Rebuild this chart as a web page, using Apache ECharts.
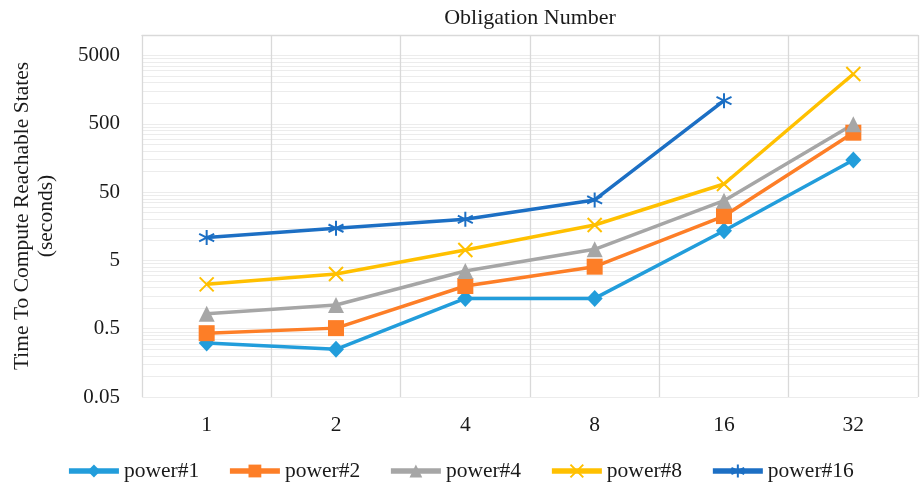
<!DOCTYPE html>
<html>
<head>
<meta charset="utf-8">
<script src="https://cdn.jsdelivr.net/npm/echarts@6/dist/echarts.min.js"></script>
<style>
  html, body { margin: 0; padding: 0; background: #ffffff; }
  #chart { width: 920px; height: 484px; }
</style>
</head>
<body>
<div id="chart"></div>
<script>
// Obligation counts on the category axis
const categories = ['1', '2', '4', '8', '16', '32'];

// Time to compute reachable states (seconds), one list per power setting
const power1 = [0.31, 0.25, 1.39, 1.39, 13.6, 148];
const power2 = [0.43, 0.51, 2.11, 4.05, 22.3, 371];
const power4 = [0.83, 1.11, 3.5, 7.27, 37.5, 492];
const power8 = [2.23, 3.16, 7.11, 16.5, 65.7, 2685];
const power16 = [10.8, 14.8, 20.0, 38.4, 1091, null];

// Labelled values on the logarithmic value axis
const yTickLabels = [0.05, 0.5, 5, 50, 500, 5000];
const yMin = 0.05;
const yMax = 10000;

// Light grid lines at every multiple of each labelled step (0.05, 0.1, 0.15 ... 0.5, 1, 1.5 ...)
const gridValues = [];
yTickLabels.forEach(function (step) {
  for (let k = 1; k <= 9; k++) {
    const v = +(step * k).toPrecision(6);
    if (v <= yMax) gridValues.push(v);
  }
});

const FONT = '"Liberation Serif", "Times New Roman", serif';
const TEXT = '#1a1a1a';

const crossPath = 'path://M0,0L10,10M10,0L0,10';
const starPath = 'path://M5,0L5,10M0.7,2.5L9.3,7.5M9.3,2.5L0.7,7.5';

function lineSeries(name, data, color, symbol, size, outlineOnly) {
  return {
    name: name,
    type: 'line',
    data: data,
    symbol: symbol,
    symbolSize: size,
    showAllSymbol: true,
    connectNulls: false,
    lineStyle: { color: color, width: 3.5 },
    itemStyle: outlineOnly
      ? { color: 'none', borderColor: color, borderWidth: 2 }
      : { color: color, borderWidth: 0 },
    emphasis: { disabled: true },
    animation: false
  };
}

const chart = echarts.init(document.getElementById('chart'), null, { renderer: 'canvas' });

chart.setOption({
  backgroundColor: '#ffffff',
  animation: false,
  grid: {
    left: 142, right: 2, top: 35, bottom: 87,
    containLabel: false,
    outerBoundsMode: 'none'
  },
  legend: {
    top: 455,
    left: 'center',
    itemWidth: 50,
    itemHeight: 16,
    itemGap: 28,
    lineStyle: { width: 5.5 },
    textStyle: { fontFamily: FONT, fontSize: 21.5, color: TEXT },
    data: ['power#1', 'power#2', 'power#4', 'power#8', 'power#16']
  },
  xAxis: [
    {
      type: 'category',
      data: categories,
      boundaryGap: true,
      position: 'bottom',
      axisLine: { show: false },
      axisTick: { show: false },
      axisLabel: { margin: 17, fontFamily: FONT, fontSize: 21.5, color: TEXT },
      splitLine: { show: true, lineStyle: { color: '#d9d9d9', width: 1.3 } }
    },
    {
      type: 'category',
      data: categories,
      position: 'top',
      axisLine: { show: true, lineStyle: { color: '#d9d9d9', width: 1.3 } },
      axisTick: { show: false },
      axisLabel: { show: false },
      splitLine: { show: false },
      name: 'Obligation Number',
      nameLocation: 'middle',
      nameGap: 6,
      nameTextStyle: { fontFamily: FONT, fontSize: 22, color: TEXT }
    }
  ],
  yAxis: {
    type: 'log',
    logBase: 10,
    min: yMin,
    max: yMax,
    axisLine: { show: false },
    axisTick: { show: false, customValues: gridValues },
    axisLabel: {
      customValues: yTickLabels,
      margin: 22,
      fontFamily: FONT,
      fontSize: 21,
      color: TEXT,
      formatter: function (v) { return String(+(+v).toPrecision(6)); }
    },
    splitLine: { show: true, lineStyle: { color: '#ececec', width: 1 } },
    name: 'Time To Compute Reachable States\n(seconds)',
    nameLocation: 'middle',
    nameGap: 84,
    nameTextStyle: { fontFamily: FONT, fontSize: 21.5, color: TEXT, lineHeight: 24 }
  },
  series: [
    lineSeries('power#1', power1, '#229ddb', 'diamond', [16, 17], false),
    lineSeries('power#2', power2, '#fd7e27', 'rect', 16, false),
    lineSeries('power#4', power4, '#a6a6a6', 'triangle', 16, false),
    lineSeries('power#8', power8, '#ffc000', crossPath, 14, true),
    lineSeries('power#16', power16, '#1c6fc4', starPath, 15, true)
  ]
});
</script>
</body>
</html>
